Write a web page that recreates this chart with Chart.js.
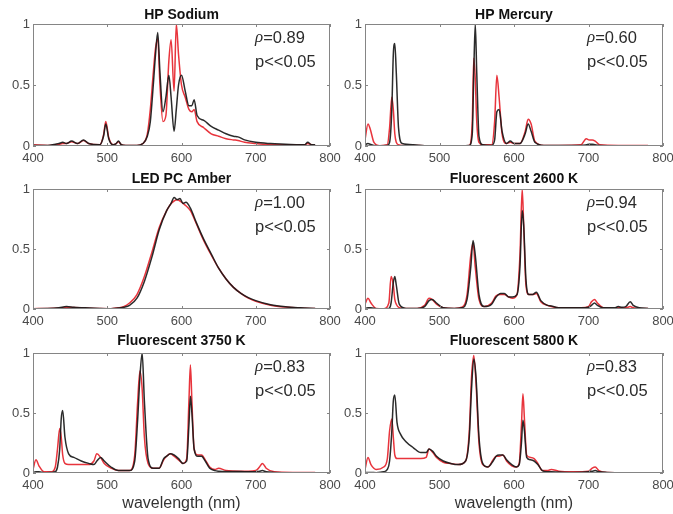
<!DOCTYPE html>
<html>
<head>
<meta charset="utf-8">
<script src="https://cdn.jsdelivr.net/npm/chart.js@4.4.1/dist/chart.umd.min.js"></script>
<style>
  body { margin: 0; background: #fff; overflow: hidden; }
  #wrap { position: relative; width: 673px; height: 514px; overflow: hidden; }
  #wrap canvas { position: absolute; }
</style>
</head>
<body>
<div id="wrap"></div>
<script>
// wavelength samples (nm) and normalised intensities, black = measured, red = model
const sodiumNm    = [400,420,435,440,445,452,460,468,475,490, 495,498,502,508,512,515,519,525,540,548, 554,558,562,565,568,571,575,579,583,586, 590,593,596,600,605,610,614,617,621,630, 640,650,660,670,676,685,700,720,740,760, 766,770,775,780];
const sodiumBlack = [0.005,0.005,0.02,0.03,0.02,0.04,0.02,0.05,0.02,0.01, 0.08,0.18,0.06,0.01,0.02,0.04,0.01,0.005,0.005,0.02, 0.08,0.2,0.5,0.75,0.93,0.6,0.28,0.4,0.58,0.4, 0.12,0.3,0.5,0.58,0.45,0.33,0.33,0.38,0.25,0.21, 0.16,0.13,0.1,0.08,0.075,0.05,0.03,0.02,0.015,0.01, 0.01,0.03,0.01,0.01];
const sodiumRed   = [0.01,0.005,0.015,0.02,0.02,0.035,0.02,0.045,0.02,0.01, 0.09,0.2,0.07,0.01,0.02,0.035,0.01,0.005,0.005,0.02, 0.1,0.3,0.6,0.8,0.88,0.5,0.2,0.25,0.7,0.87, 0.45,1.0,0.75,0.5,0.4,0.3,0.28,0.3,0.2,0.15, 0.1,0.08,0.06,0.05,0.045,0.03,0.02,0.01,0.01,0.01, 0.01,0.02,0.01,0.005];

const mercuryNm    = [400,404,407,412,420,430,433,436,438,440, 442,445,450,465,480,500,530,540,544,546, 548,550,553,558,570,574,577,580,584,590, 595,600,608,615,619,623,628,640,660,690, 697,701,705,709,715,740,780];
const mercuryBlack = [0.01,0.02,0.015,0.005,0.003,0.005,0.03,0.3,0.75,0.84, 0.6,0.15,0.02,0.01,0.003,0.003,0.003,0.005,0.1,0.6, 1.0,0.6,0.08,0.01,0.005,0.05,0.28,0.3,0.12,0.02, 0.04,0.02,0.02,0.1,0.18,0.12,0.03,0.005,0.005,0.005, 0.01,0.015,0.015,0.01,0.005,0.003,0.003];
const mercuryRed   = [0.05,0.18,0.14,0.03,0.003,0.01,0.15,0.4,0.3,0.1, 0.03,0.01,0.005,0.005,0.003,0.003,0.003,0.005,0.2,0.72, 0.55,0.2,0.03,0.01,0.01,0.2,0.58,0.4,0.1,0.02, 0.03,0.02,0.02,0.12,0.22,0.18,0.04,0.005,0.005,0.01, 0.06,0.05,0.05,0.04,0.01,0.005,0.005];

const amberNm    = [400,420,435,445,455,470,490,505,515,522, 530,540,550,560,570,580,586,590,594,598, 602,606,612,620,630,640,650,660,670,680, 690,700,720,740,760,780];
const amberBlack = [0.003,0.004,0.01,0.02,0.015,0.01,0.005,0.003,0.008,0.015, 0.03,0.09,0.23,0.43,0.66,0.82,0.88,0.93,0.91,0.92, 0.88,0.89,0.84,0.72,0.58,0.46,0.34,0.25,0.18,0.13, 0.095,0.07,0.035,0.018,0.01,0.005];
const amberRed   = [0.003,0.004,0.008,0.015,0.012,0.008,0.004,0.003,0.01,0.02, 0.05,0.12,0.27,0.47,0.68,0.82,0.88,0.9,0.91,0.9, 0.88,0.86,0.82,0.71,0.57,0.45,0.34,0.25,0.18,0.13, 0.09,0.065,0.032,0.016,0.008,0.004];

const fl2600Nm    = [400,404,408,415,425,432,435,438,440,442, 446,455,470,480,486,490,496,505,520,530, 537,542,545,548,553,560,570,576,582,587, 593,598,604,608,611,613,616,620,625,630, 636,645,650,660,680,690,700,704,708,712, 720,735,740,745,750,756,760,768,780];
const fl2600Black = [0.005,0.01,0.01,0.003,0.003,0.005,0.05,0.22,0.27,0.2, 0.04,0.005,0.005,0.02,0.07,0.08,0.05,0.01,0.005,0.01, 0.08,0.35,0.57,0.45,0.12,0.02,0.04,0.1,0.13,0.13, 0.1,0.1,0.12,0.35,0.82,0.7,0.25,0.12,0.12,0.14, 0.07,0.03,0.025,0.01,0.01,0.01,0.015,0.03,0.05,0.03, 0.01,0.01,0.02,0.015,0.02,0.06,0.03,0.01,0.005];
const fl2600Red   = [0.04,0.09,0.05,0.005,0.003,0.05,0.27,0.2,0.08,0.04, 0.01,0.005,0.005,0.03,0.09,0.08,0.04,0.01,0.005,0.015, 0.12,0.45,0.55,0.35,0.08,0.02,0.05,0.11,0.12,0.12, 0.1,0.09,0.12,0.45,1.0,0.7,0.2,0.12,0.12,0.13, 0.06,0.03,0.02,0.01,0.01,0.01,0.02,0.06,0.08,0.05, 0.01,0.005,0.01,0.01,0.01,0.02,0.01,0.005,0.005];

const fl3750Nm    = [400,404,408,415,425,430,433,436,438,440, 443,448,455,465,475,482,486,491,496,505, 515,530,537,541,544,547,550,555,562,570, 576,580,585,590,596,602,607,610,612,614, 617,622,627,632,638,645,650,660,680,690, 700,705,709,714,725,750,780];
const fl3750Black = [0.005,0.01,0.01,0.003,0.005,0.01,0.05,0.2,0.45,0.52, 0.3,0.16,0.13,0.1,0.08,0.07,0.1,0.13,0.1,0.05, 0.02,0.02,0.1,0.45,0.8,1.0,0.6,0.12,0.04,0.04, 0.12,0.14,0.16,0.15,0.12,0.08,0.1,0.4,0.64,0.5, 0.2,0.14,0.14,0.1,0.04,0.02,0.015,0.012,0.012,0.01, 0.01,0.015,0.02,0.01,0.005,0.003,0.003];
const fl3750Red   = [0.03,0.11,0.06,0.01,0.01,0.05,0.2,0.37,0.3,0.15, 0.08,0.07,0.07,0.07,0.07,0.1,0.16,0.13,0.08,0.04, 0.02,0.02,0.15,0.6,0.85,0.7,0.3,0.08,0.04,0.04, 0.11,0.14,0.16,0.14,0.11,0.08,0.12,0.6,0.9,0.6, 0.2,0.15,0.15,0.11,0.05,0.03,0.04,0.02,0.015,0.015, 0.02,0.05,0.08,0.04,0.01,0.005,0.005];

const fl5800Nm    = [400,404,408,415,425,430,433,436,438,440, 443,448,455,465,475,482,486,491,496,505, 515,525,535,540,543,546,549,553,558,565, 572,576,580,585,590,597,603,607,610,612, 614,617,622,627,632,638,645,650,660,680, 700,705,709,714,725,750,780];
const fl5800Black = [0.003,0.005,0.005,0.003,0.01,0.03,0.1,0.35,0.6,0.65, 0.42,0.32,0.26,0.21,0.17,0.17,0.2,0.18,0.14,0.1, 0.08,0.07,0.1,0.3,0.7,0.95,0.8,0.3,0.08,0.05, 0.1,0.14,0.15,0.15,0.11,0.07,0.05,0.07,0.25,0.44, 0.35,0.13,0.11,0.1,0.07,0.02,0.01,0.01,0.008,0.005, 0.01,0.015,0.02,0.01,0.005,0.003,0.003];
const fl5800Red   = [0.03,0.13,0.07,0.03,0.05,0.12,0.35,0.45,0.3,0.15, 0.12,0.12,0.12,0.12,0.12,0.13,0.2,0.17,0.13,0.09, 0.08,0.07,0.1,0.35,0.8,0.98,0.75,0.25,0.07,0.05, 0.11,0.14,0.14,0.15,0.1,0.06,0.05,0.08,0.4,0.66, 0.45,0.15,0.13,0.12,0.08,0.02,0.02,0.03,0.015,0.01, 0.015,0.04,0.05,0.02,0.005,0.003,0.003];

const titles = ['HP Sodium', 'HP Mercury', 'LED PC Amber', 'Fluorescent 2600 K', 'Fluorescent 3750 K', 'Fluorescent 5800 K'];
const rhoValues = ['0.89', '0.60', '1.00', '0.94', '0.83', '0.83'];
const pLabel = 'p<<0.05';
const xTicks = [400, 500, 600, 700, 800];
const yTicks = [0, 0.5, 1];

const panels = [
  { nm: sodiumNm,  black: sodiumBlack,  red: sodiumRed },
  { nm: mercuryNm, black: mercuryBlack, red: mercuryRed },
  { nm: amberNm,   black: amberBlack,   red: amberRed },
  { nm: fl2600Nm,  black: fl2600Black,  red: fl2600Red },
  { nm: fl3750Nm,  black: fl3750Black,  red: fl3750Red },
  { nm: fl5800Nm,  black: fl5800Black,  red: fl5800Red }
];

const FONT = "'Liberation Sans', Arial, Helvetica, sans-serif";
const colLeft = [0, 333];
const rowTop = [0, 165, 329];
const rowHeight = [170, 168, 184];
const titleGap = [9, 10, 12];
const canvasW = 346;

// MATLAB-like box, inward ticks, title and rho/p annotation
const boxPlugin = {
  id: 'matlabBox',
  afterDatasetsDraw(chart, args, opts) {
    const { ctx, chartArea: a, scales } = chart;
    ctx.save();
    ctx.strokeStyle = '#858585';
    ctx.lineWidth = 1;
    ctx.strokeRect(a.left + 0.5, a.top + 0.5, a.right - a.left - 1, a.bottom - a.top - 1);
    ctx.beginPath();
    xTicks.forEach(v => {
      const x = Math.round(scales.x.getPixelForValue(v)) + 0.5;
      ctx.moveTo(x, a.bottom); ctx.lineTo(x, a.bottom - 3);
      ctx.moveTo(x, a.top); ctx.lineTo(x, a.top + 3);
    });
    yTicks.forEach(v => {
      const y = Math.round(scales.y.getPixelForValue(v)) + 0.5;
      ctx.moveTo(a.left, y); ctx.lineTo(a.left + 3, y);
      ctx.moveTo(a.right, y); ctx.lineTo(a.right - 3, y);
    });
    ctx.stroke();

    ctx.fillStyle = '#111';
    ctx.font = `bold 14px ${FONT}`;
    ctx.textAlign = 'center';
    ctx.textBaseline = 'middle';
    ctx.fillText(opts.title, (a.left + a.right) / 2, a.top - opts.gap);

    const tx = a.left + 222;
    ctx.textAlign = 'left';
    ctx.fillStyle = '#2b2b2b';
    ctx.font = `italic 17px 'Liberation Serif', serif`;
    ctx.fillText('ρ', tx, a.top + 14);
    const w = ctx.measureText('ρ').width;
    ctx.font = `16.5px ${FONT}`;
    ctx.fillText('=' + opts.rho, tx + w, a.top + 14);
    ctx.fillText(pLabel, tx, a.top + 38);
    ctx.restore();
  }
};

const wrap = document.getElementById('wrap');

panels.forEach((p, i) => {
  const col = i % 2, row = Math.floor(i / 2);
  const canvas = document.createElement('canvas');
  canvas.width = canvasW;
  canvas.height = rowHeight[row];
  canvas.style.left = colLeft[col] + 'px';
  canvas.style.top = rowTop[row] + 'px';
  wrap.appendChild(canvas);

  const lastRow = row === 2;
  const toPts = arr => p.nm.map((x, k) => ({ x: x, y: arr[k] }));

  new Chart(canvas, {
    type: 'line',
    data: {
      datasets: [
        { label: 'measured', data: toPts(p.black), borderColor: 'rgba(25,25,25,0.92)', borderWidth: 1.5 },
        { label: 'model', data: toPts(p.red), borderColor: '#e8343c', borderWidth: 1.5 }
      ]
    },
    options: {
      responsive: false,
      animation: false,
      events: [],
      layout: { padding: { left: 0, right: canvasW - 330, top: 24, bottom: 0 } },
      elements: {
        point: { radius: 0 },
        line: { cubicInterpolationMode: 'monotone' }
      },
      plugins: {
        legend: { display: false },
        tooltip: { enabled: false },
        matlabBox: { title: titles[i], rho: rhoValues[i], gap: titleGap[row] }
      },
      scales: {
        x: {
          type: 'linear', min: 400, max: 800,
          afterBuildTicks: s => { s.ticks = xTicks.map(v => ({ value: v })); },
          afterFit: s => {
            s.height = rowHeight[row] - 24 - (row === 0 ? 122 : 120);
            s.paddingLeft = 0; s.paddingRight = 0;
          },
          grid: { display: false, drawTicks: false },
          border: { display: false },
          ticks: { color: '#4a4a4a', font: { family: FONT, size: 13 }, padding: 5, maxRotation: 0 },
          title: {
            display: lastRow, text: 'wavelength (nm)', color: '#333',
            font: { family: FONT, size: 16 }, padding: { top: 0, bottom: 0 }
          }
        },
        y: {
          min: 0, max: 1,
          afterBuildTicks: s => { s.ticks = yTicks.map(v => ({ value: v })); },
          afterFit: s => { s.width = col === 0 ? 33 : 32; s.paddingTop = 0; s.paddingBottom = 0; },
          grid: { display: false, drawTicks: false },
          border: { display: false },
          ticks: { color: '#4a4a4a', font: { family: FONT, size: 13 }, padding: 3, callback: v => String(v) }
        }
      }
    },
    plugins: [boxPlugin]
  });
});
</script>
</body>
</html>
